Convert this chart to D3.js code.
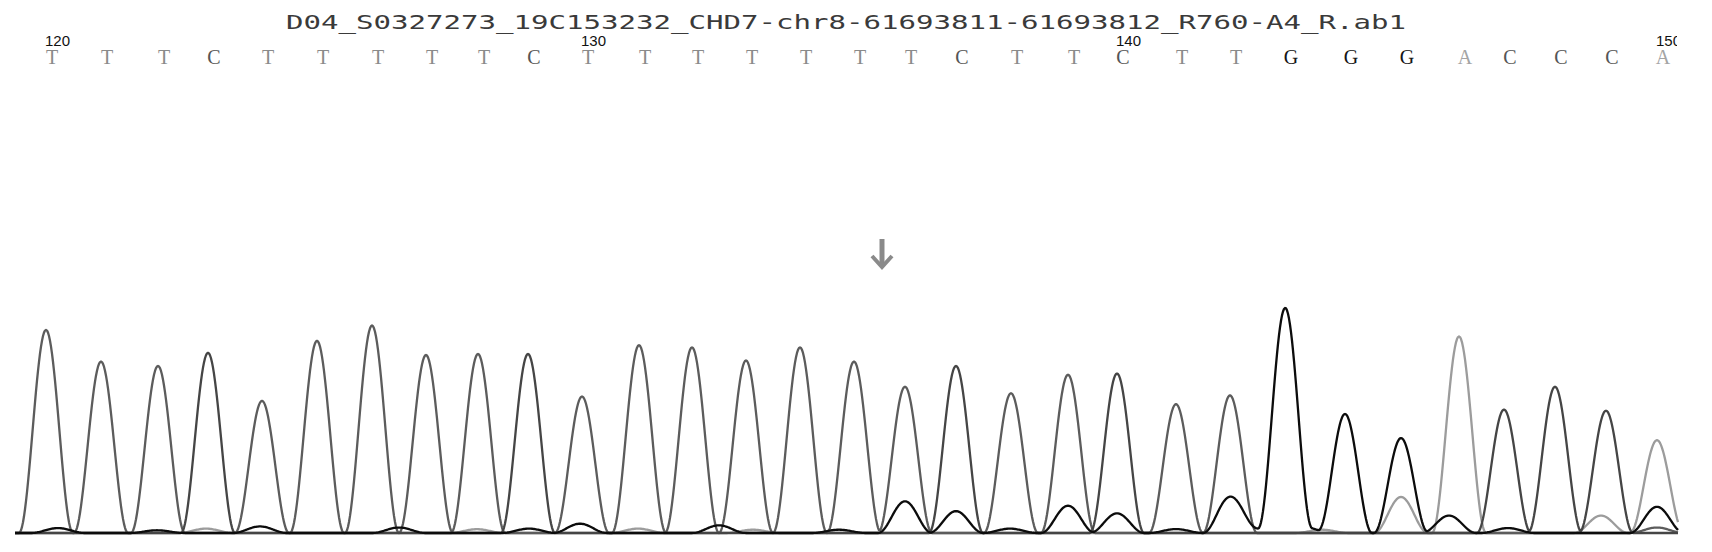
<!DOCTYPE html>
<html>
<head>
<meta charset="utf-8">
<script src="https://cdn.jsdelivr.net/npm/d3@7"></script>
<style>
  body { margin: 0; background: #ffffff; }
</style>
</head>
<body>
<script>
// sample + read info
const title = "D04_S0327273_19C153232_CHD7-chr8-61693811-61693812_R760-A4_R.ab1";
const firstBase = 120;
const baseCalls = ["T","T","T","C","T","T","T","T","T","C","T","T","T","T","T","T","T","C","T","T","C","T","T","G","G","G","A","C","C","C","A"];
const tickLabels = [120, 130, 140, 150];

// scan position and height (RFU) of each called peak
const peakScans = [3431,3486,3543,3593,3647,3702,3757,3811,3863,3913,3967,4024,4077,4131,4185,4239,4290,4341,4396,4453,4502,4561,4615,4670,4730,4786,4844,4889,4940,4991,5042];
const peakHeights = [1860,1570,1530,1650,1210,1760,1900,1630,1640,1640,1250,1720,1700,1580,1700,1570,1340,1530,1280,1450,1460,1180,1260,2050,1090,840,1800,1130,1340,1120,850];

// secondary / background peaks under the main ones
const minorChannels = ["G","G","G","G","G","A","G","A","G","T","G","G","A","G","G","A","G","G","A","G","A","G","G","G","G","G","A","G","G"];
const minorScans = [4290,4341,4453,4502,4615,4786,4834,4986,5042,5042,3443,3542,3591,3645,3784,3862,3914,3965,4023,4104,4138,4224,4395,4561,4638,4689,4707,4788,4893];
const minorHeights = [290,200,250,180,330,330,160,160,240,50,45,25,40,60,50,35,40,85,40,70,30,30,40,36,45,55,30,30,45];

const arrowScan = 4267;

const chart = () => {
  const width = 1712;
  const height = 552;
  const scanStart = 3400, scanEnd = 5063;
  const halfWidth = 27;

  const traceColors = { A: "#9c9c9c", C: "#454545", G: "#0c0c0c", T: "#5c5c5c" };
  const letterColors = { A: "#a4a4a4", C: "#555555", G: "#151515", T: "#8a8a8a" };

  const svg = d3.select("body").append("svg").attr("width", width).attr("height", height).style("background", "#ffffff");

  const x = d3.scaleLinear().domain([scanStart, scanEnd]).range([15, 1678]);
  const y = d3.scaleLinear().domain([0, 2000]).range([533, 533 - 218.4]);

  // peak list per channel
  const peaks = { A: [], C: [], G: [], T: [] };
  baseCalls.forEach((b, i) => peaks[b].push({ scan: peakScans[i], h: peakHeights[i] }));
  minorChannels.forEach((c, i) => peaks[c].push({ scan: minorScans[i], h: minorHeights[i] }));

  const bell = (d) => Math.abs(d) >= halfWidth ? 0 : 0.5 * (1 + Math.cos(Math.PI * d / halfWidth));
  const scans = d3.range(scanStart, scanEnd + 1);

  const line = d3.line().x(d => x(d.scan)).y(d => y(d.v));

  // draw light channels first so the dark ones sit on top
  ["A", "T", "C", "G"].forEach(ch => {
    const pts = scans.map(s => ({ scan: s, v: d3.sum(peaks[ch], p => p.h * bell(s - p.scan)) }));
    svg.append("path").datum(pts)
      .attr("d", line)
      .attr("fill", "none")
      .attr("stroke", traceColors[ch])
      .attr("stroke-width", 2.3)
      .attr("stroke-linejoin", "round");
  });

  // title
  svg.append("text")
    .attr("x", 286).attr("y", 29)
    .attr("textLength", 1120).attr("lengthAdjust", "spacingAndGlyphs")
    .style("font-family", "'DejaVu Sans Mono', monospace").style("font-size", "20px")
    .attr("fill", "#3a3a3a")
    .text(title);

  // the trace window cuts the last position number
  svg.append("clipPath").attr("id", "view").append("rect").attr("x", 0).attr("y", 0).attr("width", 1677).attr("height", height);

  // base letters
  svg.append("g").selectAll("text").data(baseCalls).enter().append("text")
    .attr("x", (d, i) => x(peakScans[i]) + 6)
    .attr("y", 64)
    .attr("text-anchor", "middle")
    .style("font-family", "'Liberation Serif', serif").style("font-size", "20px")
    .attr("fill", d => letterColors[d])
    .text(d => d);

  // position numbers
  svg.append("g").attr("clip-path", "url(#view)").selectAll("text").data(tickLabels).enter().append("text")
    .attr("x", d => x(peakScans[d - firstBase]) - 1)
    .attr("y", 46)
    .style("font-family", "'Liberation Sans', sans-serif").style("font-size", "15px")
    .attr("fill", "#111111")
    .text(d => d);

  // arrow marking the site
  const ax = x(arrowScan);
  svg.append("line").attr("x1", ax).attr("x2", ax).attr("y1", 239).attr("y2", 266)
    .attr("stroke", "#8a8a8a").attr("stroke-width", 5);
  svg.append("path").attr("d", `M${ax - 10},256 L${ax},267 L${ax + 10},256`)
    .attr("fill", "none").attr("stroke", "#8a8a8a").attr("stroke-width", 4);
}

chart();
</script>
</body>
</html>
